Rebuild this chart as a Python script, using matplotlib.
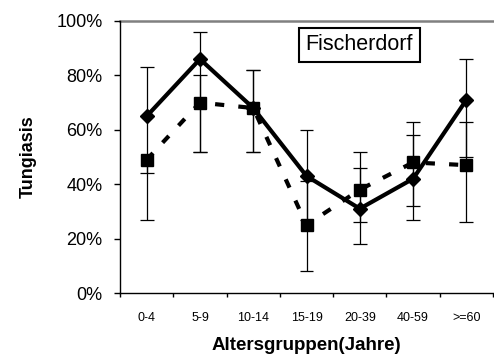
import matplotlib
matplotlib.use("Agg")
import matplotlib.pyplot as plt
import numpy as np

# Altersgruppen
gruppen = ["0-4", "5-9", "10-14", "15-19", "20-39", "40-59", ">=60"]

# durchgezogene Linie (Rauten)
werte_a = [65, 86, 68, 43, 31, 42, 71]
hoch_a = [83, 96, 82, 60, 46, 58, 86]
tief_a = [44, 52, 52, 27, 18, 27, 50]

# gestrichelte Linie (Quadrate)
werte_b = [49, 70, 68, 25, 38, 48, 47]
hoch_b = [np.nan, 80, 82, 41, 52, 63, 63]
tief_b = [27, 52, 52, 8, 26, 32, 26]


def fehlerbalken(ax, x, werte, hoch, tief, w=0.13):
    for xi, v, h, t in zip(x, werte, hoch, tief):
        oben = v if np.isnan(h) else h
        unten = v if np.isnan(t) else t
        ax.vlines(xi, unten / 100, oben / 100, color="black", lw=0.9, zorder=2)
        for c in (h, t):
            if not np.isnan(c):
                ax.hlines(c / 100, xi - w, xi + w, color="black", lw=0.9, zorder=2)


def main():
    plt.rcParams["font.family"] = ["Liberation Sans", "DejaVu Sans"]

    fig = plt.figure(figsize=(4.94, 3.62), dpi=100)
    ax = fig.add_axes([0.243, 0.1906, 0.755, 0.7514])

    x = np.arange(1, len(gruppen) + 1)
    fehlerbalken(ax, x, werte_a, np.array(hoch_a, dtype=float), np.array(tief_a, dtype=float))
    fehlerbalken(ax, x, werte_b, np.array(hoch_b, dtype=float), np.array(tief_b, dtype=float))

    ax.plot(x, np.array(werte_b) / 100, color="black", lw=3,
            linestyle=(0, (2.2, 3.4)), marker="s", markersize=8.5, zorder=3)
    ax.plot(x, np.array(werte_a) / 100, color="black", lw=3,
            marker="D", markersize=6.8, zorder=4)

    ax.axhline(1.0, color="#808080", lw=1.8, zorder=1, clip_on=False)

    ax.set_xlim(0.5, len(gruppen) + 0.5)
    ax.set_ylim(0, 1.0)

    ax.spines["top"].set_visible(False)
    ax.spines["right"].set_visible(False)
    ax.spines["left"].set_linewidth(1.0)
    ax.spines["bottom"].set_linewidth(1.0)

    ax.set_yticks(np.arange(0, 1.01, 0.2))
    ax.set_yticklabels([f"{int(round(v * 100))}%" for v in np.arange(0, 1.01, 0.2)])
    ax.tick_params(axis="y", direction="out", length=4.5, width=1, pad=8, labelsize=13)

    ax.set_xticks(np.arange(0.5, len(gruppen) + 1, 1.0))
    ax.set_xticklabels([])
    ax.tick_params(axis="x", which="major", direction="out", length=3, width=1)
    ax.set_xticks(x, minor=True)
    ax.set_xticklabels(gruppen, minor=True)
    ax.tick_params(axis="x", which="minor", length=0, pad=14, labelsize=9)

    ax.set_xlabel("Altersgruppen(Jahre)", fontsize=13.5, fontweight="bold", labelpad=9)
    ax.set_ylabel("Tungiasis", fontsize=13, fontweight="bold", labelpad=14)

    ax.text(0.642, 0.912, "Fischerdorf", transform=ax.transAxes, fontsize=15.5,
            ha="center", va="center", zorder=5,
            bbox=dict(boxstyle="square,pad=0.3", fc="white", ec="black", lw=1.5))

    fig.savefig("out.png", dpi=100)


if __name__ == "__main__":
    main()
